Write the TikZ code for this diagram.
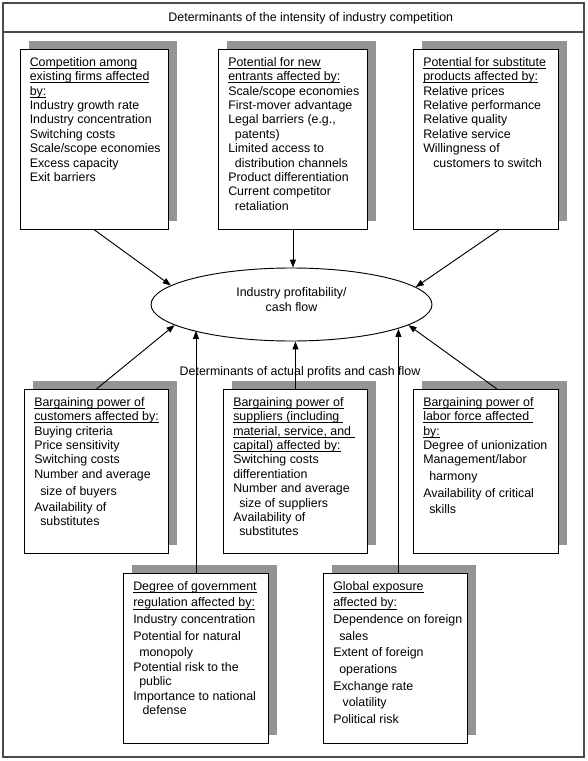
\documentclass[tikz,border=0pt]{standalone}
\usepackage{fontspec}
\setmainfont{Liberation Sans}
\usetikzlibrary{arrows.meta,shapes.geometric,shadows,calc}

% underlined heading line, rule a little below the baseline
\newcommand{\hd}[1]{\setbox0\hbox{#1}\rlap{\rule[-1.9pt]{\wd0}{0.6pt}}\box0}

\tikzset{
  card/.style={draw, fill=white, line width=0.7pt, inner sep=0pt, anchor=north west,
    drop shadow={shadow xshift=6.5pt, shadow yshift=6pt, fill=black!42, opacity=1}},
  boxtext/.style={anchor=north west, inner sep=0pt, align=left, font=\fontsize{9.3}{10.8}\selectfont},
  link/.style={line width=0.7pt, -{Triangle[length=6pt,width=4.5pt]}}
}

\begin{document}
\begin{tikzpicture}[x=0.75pt, y=-0.75pt]

\useasboundingbox (0,0) rectangle (587,761);
\draw[black!70, line width=0.8pt] (3,3) rectangle (584,757);
\draw[black!70, line width=0.8pt] (3,32) -- (584,32);
\node[font=\fontsize{9.3}{10.8}\selectfont] (title) at (310.8,18) {Determinants of the intensity of industry competition};

% upper row
\node[card, minimum width=111pt, minimum height=135pt] (comp) at (20,49) {};
\node[boxtext] (comptxt) at ($(comp.north west)+(9.5,8)$) {\hd{Competition among}\\ \hd{existing firms affected}\\ \hd{by:}\\ Industry growth rate\\ Industry concentration\\ Switching costs\\ Scale/scope economies\\ Excess capacity\\ Exit barriers};

\node[card, minimum width=111.75pt, minimum height=135pt] (entr) at (218,49) {};
\node[boxtext] (entrtxt) at ($(entr.north west)+(10,8)$) {\hd{Potential for new}\\ \hd{entrants affected by:}\\ Scale/scope economies\\ First-mover advantage\\ Legal barriers (e.g.,\\ \hspace*{5pt}patents)\\ Limited access to\\ \hspace*{5pt}distribution channels\\ Product differentiation\\ Current competitor\\ \hspace*{5pt}retaliation};

\node[card, minimum width=108.75pt, minimum height=135pt] (subs) at (413,49) {};
\node[boxtext] (substxt) at ($(subs.north west)+(10,8)$) {\hd{Potential for substitute}\\ \hd{products affected by:}\\ Relative prices\\ Relative performance\\ Relative quality\\ Relative service\\ Willingness of\\ \hspace*{7.5pt}customers to switch};

% centre
\node[ellipse, draw, line width=0.7pt, inner sep=0pt, minimum width=210.75pt, minimum height=54.75pt,
  align=center, text depth=8pt, font=\fontsize{9.3}{11.2}\selectfont] (prof) at (291.5,304.5) {Industry profitability/\\cash flow};
\node[font=\fontsize{9.3}{10.8}\selectfont] (actual) at (300,372.5) {Determinants of actual profits and cash flow};

% middle row
\node[card, minimum width=108pt, minimum height=123pt] (cust) at (24,389) {};
\node[boxtext] (custtxt) at ($(cust.north west)+(10,8)$) {\hd{Bargaining power of}\\ \hd{customers affected by:}\\ Buying criteria\\ Price sensitivity\\ Switching costs\\ Number and average\\[1.9pt] \hspace*{4.5pt}size of buyers\\[1.5pt] Availability of\\ \hspace*{4.5pt}substitutes};

\node[card, minimum width=108pt, minimum height=123pt] (supp) at (223,389) {};
\node[boxtext] (supptxt) at ($(supp.north west)+(10,8)$) {\hd{Bargaining power of}\\ \hd{suppliers (including\ }\\ \hd{material, service, and\ }\\ \hd{capital) affected by:}\\ Switching costs\\ differentiation\\ Number and average\\ \hspace*{4.5pt}size of suppliers\\ Availability of\\ \hspace*{4.5pt}substitutes};

\node[card, minimum width=108.75pt, minimum height=123pt] (labr) at (413,389) {};
\node[boxtext] (labrtxt) at ($(labr.north west)+(10,8)$) {\hd{Bargaining power of}\\ \hd{labor force affected\ }\\ \hd{by:}\\ Degree of unionization\\ Management/labor\\[1.7pt] \hspace*{4.5pt}harmony\\[1.7pt] Availability of critical\\[1.7pt] \hspace*{4.5pt}skills};

% lower row
\node[card, minimum width=108.75pt, minimum height=127.5pt] (govt) at (123,573) {};
\node[boxtext] (govttxt) at ($(govt.north west)+(10,8)$) {\hd{Degree of government}\\[1.7pt] \hd{regulation affected by:}\\[1.7pt] Industry concentration\\[1.7pt] Potential for natural\\[1.7pt] \hspace*{4.5pt}monopoly\\ Potential risk to the\\ \hspace*{4.5pt}public\\ Importance to national\\ \hspace*{7pt}defense};

\node[card, minimum width=108pt, minimum height=127.5pt] (glob) at (323,573) {};
\node[boxtext, font=\fontsize{9.3}{12.5}\selectfont] (globtxt) at ($(glob.north west)+(10,8)$) {\hd{Global exposure}\\ \hd{affected by:}\\ Dependence on foreign\\ \hspace*{4.5pt}sales\\ Extent of foreign\\ \hspace*{4.5pt}operations\\ Exchange rate\\ \hspace*{7pt}volatility\\ Political risk};

% connectors
\coordinate (substail) at ($(subs.south)+(13,0)$);
\coordinate (labrtail) at ($(labr.north)+(11,0)$);
\coordinate (globtail) at ($(glob.north)+(3,0)$);
\draw[link] (comp.south) -- (prof.171);
\draw[link] (entr.south) -- (entr.south |- prof.north);
\draw[link] (substail) -- (prof.8);
\draw[link] (cust.north) -- (prof.190);
\draw[link] (supp.north) -- (supp.north |- prof.south);
\draw[link] (labrtail) -- (prof.-10);
\draw[link] (govt.north) -- (govt.north |- prof.195);
\draw[link] (globtail) -- (globtail |- prof.-13);

\end{tikzpicture}
\end{document}
